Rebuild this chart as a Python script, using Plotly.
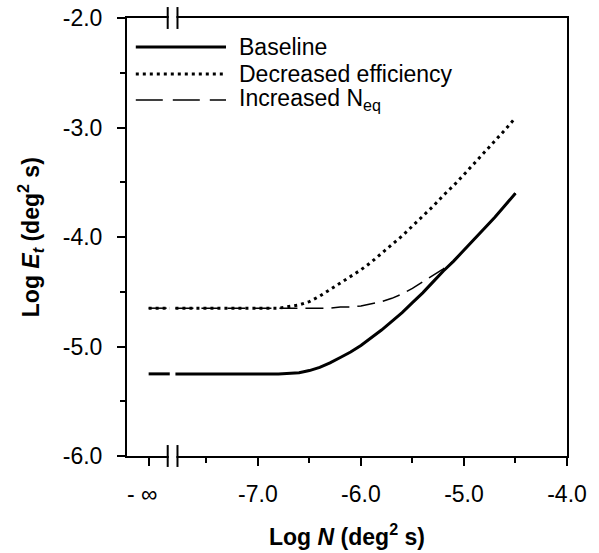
import plotly.graph_objects as go

# ---- data ----
log_n = [-7.8, -7.4, -7.0, -6.8, -6.6, -6.5, -6.4, -6.3, -6.2, -6.1, -6.0, -5.9, -5.8,
         -5.7, -5.6, -5.5, -5.4, -5.3, -5.2, -5.1, -5.0, -4.9, -4.8, -4.7, -4.6, -4.5]
baseline = [-5.25, -5.25, -5.25, -5.25, -5.24, -5.22, -5.19, -5.15, -5.10, -5.05, -4.99, -4.92, -4.85,
            -4.77, -4.69, -4.60, -4.51, -4.41, -4.31, -4.22, -4.12, -4.02, -3.92, -3.82, -3.71, -3.60]
decreased_eff = [-4.65, -4.65, -4.65, -4.65, -4.62, -4.59, -4.54, -4.48, -4.42, -4.36, -4.30, -4.23, -4.15,
                 -4.07, -3.99, -3.90, -3.81, -3.72, -3.62, -3.53, -3.43, -3.33, -3.23, -3.12, -3.02, -2.91]
increased_neq = [-4.65, -4.65, -4.65, -4.65, -4.65, -4.65, -4.65, -4.65, -4.64, -4.64, -4.63, -4.61, -4.59,
                 -4.56, -4.52, -4.47, -4.41, -4.35, -4.29, -4.22, -4.12, -4.02, -3.92, -3.82, -3.71, -3.60]
# values at N -> -infinity
baseline_inf = -5.25
decreased_inf = -4.65
increased_neq_inf = -4.65

x_tick_vals = [-8.06, -7.0, -6.0, -5.0, -4.0]
x_tick_text = ["- \u221e\u00a0\u00a0", "-7.0", "-6.0", "-5.0", "-4.0"]
x_minor = [-7.5, -6.5, -5.5, -4.5]
y_tick_vals = [-6.0, -5.0, -4.0, -3.0, -2.0]
y_tick_text = ["-6.0", "-5.0", "-4.0", "-3.0", "-2.0"]
y_minor = [-5.5, -4.5, -3.5, -2.5]

series_names = ["Baseline", "Decreased efficiency", "Increased N<sub>eq</sub>"]

# ---- layout constants ----
NEG_INF_POS = -8.06     # axis position standing for -infinity
SEG_END = -7.855        # end of the -infinity stub before the axis break
BREAK_L, BREAK_R = -7.875, -7.78
FONT = "Arial, Liberation Sans, sans-serif"
FS = 23

def build(vals, inf_val):
    xs = [NEG_INF_POS, SEG_END, None] + log_n
    ys = [inf_val, inf_val, None] + vals
    return xs, ys

fig = go.Figure()
styles = [
    dict(color="black", width=3, dash="solid"),
    dict(color="black", width=3, dash="3px,4px"),
    dict(color="black", width=1.5, dash="18px,8px"),
]
order = [(2, increased_neq, increased_neq_inf), (1, decreased_eff, decreased_inf), (0, baseline, baseline_inf)]
for idx, vals, inf_val in order:
    xs, ys = build(vals, inf_val)
    fig.add_trace(go.Scatter(x=xs, y=ys, mode="lines", line=styles[idx],
                             name=series_names[idx], showlegend=False, connectgaps=False))

shapes = []
# axis break marks (top and bottom)
for yc in (0.0, 1.0):
    shapes.append(dict(type="rect", xref="x", yref="paper", x0=BREAK_L + 0.01, x1=BREAK_R - 0.01,
                       y0=yc - 0.01, y1=yc + 0.01, fillcolor="white", line=dict(width=0), layer="above"))
    for xb in (BREAK_L, BREAK_R):
        shapes.append(dict(type="line", xref="x", yref="paper", x0=xb, x1=xb,
                           y0=yc - 0.025, y1=yc + 0.025, line=dict(color="black", width=2), layer="above"))

# legend
leg_y = [0.934, 0.872, 0.813]
annotations = []
for i in range(3):
    st = styles[i]
    shapes.append(dict(type="line", xref="paper", yref="paper", x0=0.02, x1=0.225, y0=leg_y[i], y1=leg_y[i],
                       line=dict(color="black", width=st["width"], dash=st["dash"] if i != 2 else "27px,10px")))
    annotations.append(dict(xref="paper", yref="paper", x=0.25, y=leg_y[i], xanchor="left", yanchor="middle",
                            text=series_names[i], showarrow=False, font=dict(family=FONT, size=FS, color="black")))

annotations.append(dict(xref="paper", yref="paper", x=-0.22, y=0.5, textangle=-90, showarrow=False,
                        xanchor="center", yanchor="middle",
                        text="<b>Log <i>E<sub>t</sub></i> (deg<sup>2</sup> s)</b>",
                        font=dict(family=FONT, size=FS, color="black")))
annotations.append(dict(xref="paper", yref="paper", x=0.5, y=-0.18, showarrow=False,
                        xanchor="center", yanchor="middle",
                        text="<b>Log <i>N</i> (deg<sup>2</sup> s)</b>",
                        font=dict(family=FONT, size=FS, color="black")))

fig.update_layout(
    width=599, height=553,
    margin=dict(l=127, r=32, t=18, b=97, autoexpand=False),
    paper_bgcolor="white", plot_bgcolor="white",
    font=dict(family=FONT, size=FS, color="black"),
    shapes=shapes, annotations=annotations,
    xaxis=dict(range=[-8.27, -4.0], showgrid=False, zeroline=False, automargin=False,
               showline=True, linecolor="black", linewidth=2, mirror=True,
               tickmode="array", tickvals=x_tick_vals, ticktext=x_tick_text,
               ticks="outside", ticklen=8, tickwidth=1.5, tickcolor="black",
               ticklabelstandoff=8, ticklabeloverflow="allow",
               tickfont=dict(family=FONT, size=FS, color="black"),
               minor=dict(tickmode="array", tickvals=x_minor, ticks="outside", ticklen=5,
                          tickwidth=1.5, tickcolor="black", showgrid=False)),
    yaxis=dict(range=[-6.0, -2.0], showgrid=False, zeroline=False, automargin=False,
               showline=True, linecolor="black", linewidth=2, mirror=True,
               tickmode="array", tickvals=y_tick_vals, ticktext=y_tick_text,
               ticks="outside", ticklen=8, tickwidth=1.5, tickcolor="black",
               ticklabelstandoff=10, ticklabeloverflow="allow",
               tickfont=dict(family=FONT, size=FS, color="black"),
               minor=dict(tickmode="array", tickvals=y_minor, ticks="outside", ticklen=5,
                          tickwidth=1.5, tickcolor="black", showgrid=False)),
)

# remove the browser's default 8px body margin so the figure fills the window exactly
fig.write_html("out.html",
               config={"displayModeBar": False},
               post_script="document.body.style.margin='0';document.body.style.overflow='hidden';")
